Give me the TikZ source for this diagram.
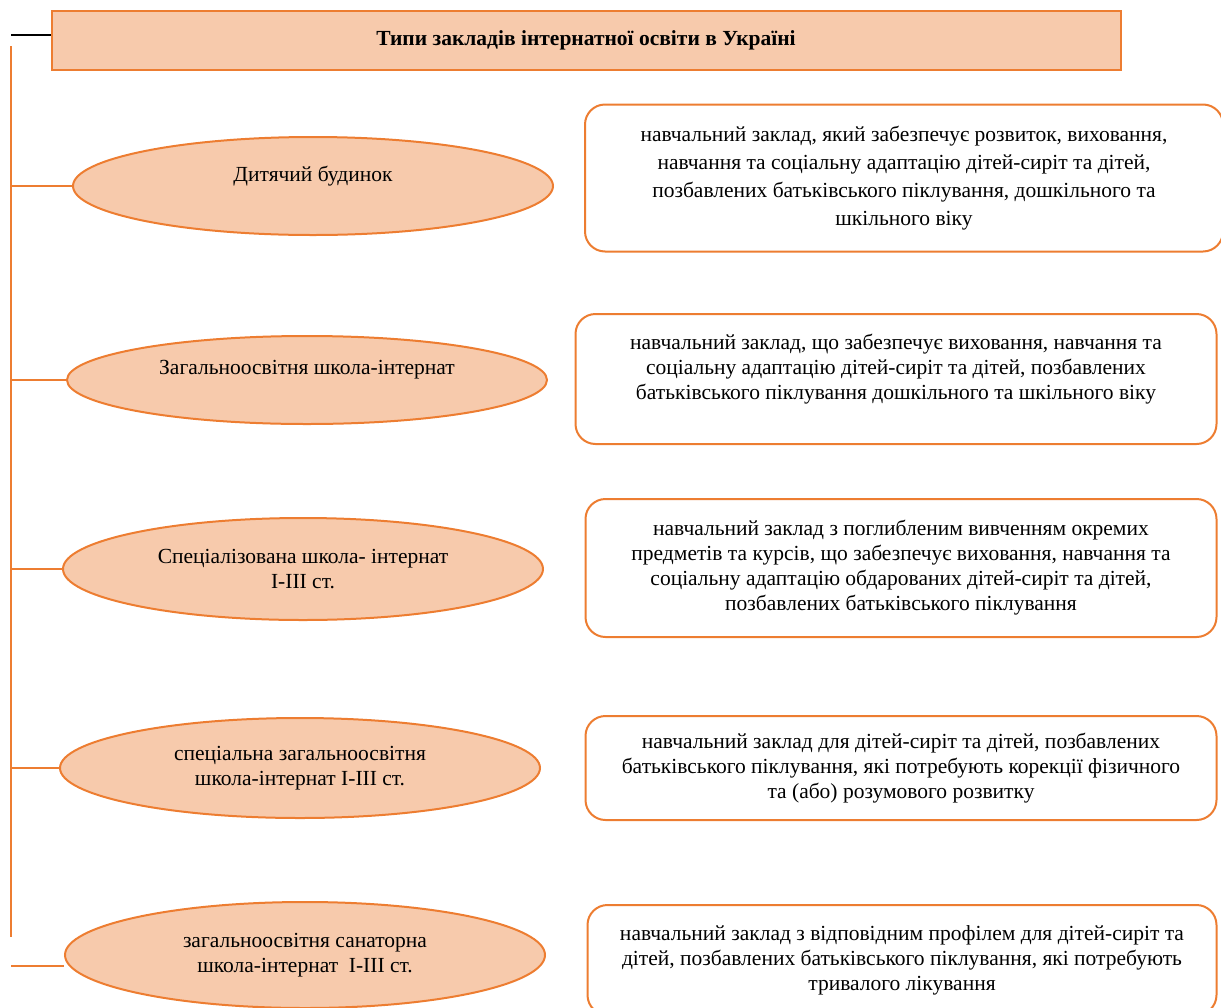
\documentclass[tikz,border=0pt]{standalone}
\usepackage{fontspec}
\setmainfont{Liberation Serif}
\usetikzlibrary{shapes.geometric}
\definecolor{peach}{HTML}{F7CAAC}
\definecolor{rim}{HTML}{ED7D31}
\tikzset{
	kind/.style={ellipse, draw=rim, fill=peach, line width=2pt, minimum width=480pt, minimum height=98pt, inner sep=0pt, align=center, font=\fontsize{21.5}{25}\selectfont},
	note/.style={rectangle, rounded corners=20pt, draw=rim, fill=white, line width=2pt, inner sep=0pt, align=center, font=\fontsize{21.5}{25}\selectfont},
	link/.style={draw=rim, line width=2pt}
}

\begin{document}
\begin{tikzpicture}[x=1pt, y=-1pt]
		%%%%% START %%%%%
		\useasboundingbox (0, 0) rectangle (1221, 1007);
		
		\node[rectangle, draw=rim, fill=peach, line width=2pt, minimum width=1069pt, minimum height=59pt, font=\fontsize{21.5}{25}\selectfont\bfseries] (title) at (586, 40) {Типи закладів інтернатної освіти в Україні};
		\coordinate (tick) at (11, 35);
		\draw[line width=2pt] (tick) -- (tick -| title.west);
		
		\coordinate (top) at (11, 46);
		\coordinate (bot) at (11, 937);
		\draw[link] (top) -- (bot);
		
		\node[kind] (home) at (313, 186) {Дитячий будинок\\ \mbox{}};
		\node[kind, minimum height=88pt] (general) at (307, 380) {Загальноосвітня школа-інтернат\\ \mbox{}};
		\node[kind, minimum height=102pt] (special) at (303, 569) {Спеціалізована школа- інтернат\\I-III ст.};
		\node[kind, minimum height=100pt] (corr) at (300, 768) {спеціальна загальноосвітня\\школа-інтернат I-III ст.};
		\node[kind, minimum height=106pt] (sana) at (305, 955) {загальноосвітня санаторна\\школа-інтернат\ \ I-III ст.};
		
		\draw[link] (home.west) -- (home.west -| top);
		\draw[link] (general.west) -- (general.west -| top);
		\draw[link] (special.west) -- (special.west -| top);
		\draw[link] (corr.west) -- (corr.west -| top);
		\draw[link] ([yshift=-11pt]sana.west) -- ([yshift=-11pt]sana.west -| top);
		
		\node[note, minimum width=638pt, minimum height=147pt, font=\fontsize{21.5}{28}\selectfont] (homenote) at (904, 178) {навчальний заклад, який забезпечує розвиток, виховання,\\навчання та соціальну адаптацію дітей-сиріт та дітей,\\позбавлених батьківського піклування, дошкільного та\\шкільного віку};
		\node[note, minimum width=641pt, minimum height=130pt] (generalnote) at (896, 379) {навчальний заклад, що забезпечує виховання, навчання та\\соціальну адаптацію дітей-сиріт та дітей, позбавлених\\батьківського піклування дошкільного та шкільного віку\\ \mbox{}};
		\node[note, minimum width=631pt, minimum height=138pt] (specialnote) at (901, 568) {навчальний заклад з поглибленим вивченням окремих\\предметів та курсів, що забезпечує виховання, навчання та\\соціальну адаптацію обдарованих дітей-сиріт та дітей,\\позбавлених батьківського піклування};
		\node[note, minimum width=631pt, minimum height=104pt] (corrnote) at (901, 768) {навчальний заклад для дітей-сиріт та дітей, позбавлених\\батьківського піклування, які потребують корекції фізичного\\та (або) розумового розвитку};
		\node[note, minimum width=629pt, minimum height=110pt] (sananote) at (902, 960) {навчальний заклад з відповідним профілем для дітей-сиріт та\\дітей, позбавлених батьківського піклування, які потребують\\тривалого лікування};
		
		%%%%% END %%%%%
	\end{tikzpicture}
\end{document}
